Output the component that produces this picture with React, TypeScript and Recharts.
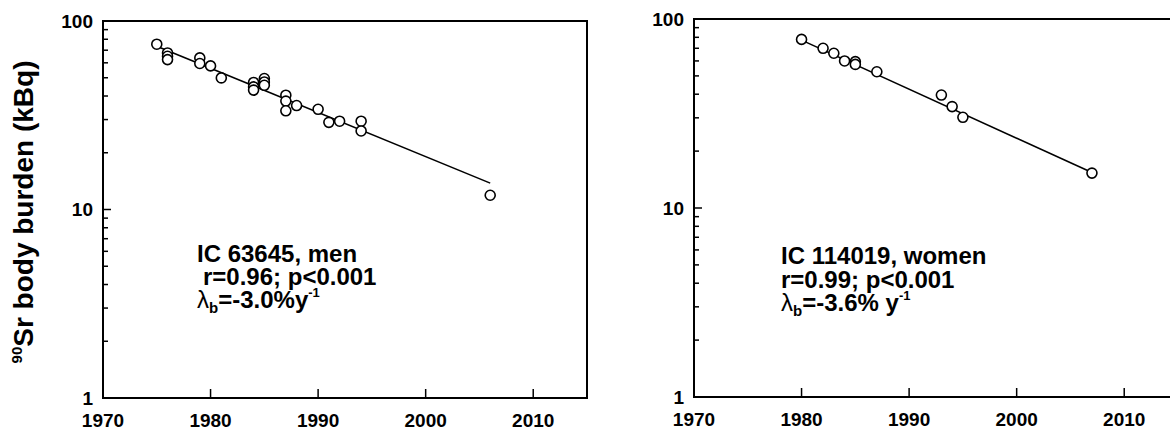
import React from 'react';
import { ScatterChart, Scatter, XAxis, YAxis, ReferenceArea } from 'recharts';

// Whole-body 90Sr burden measurements (kBq) by year of measurement
const menYears = [1975, 1976, 1976, 1976, 1979, 1979, 1980, 1981, 1984, 1984, 1984, 1985, 1985, 1985, 1987, 1987, 1987, 1988, 1990, 1991, 1992, 1994, 1994, 2006];
const menBurden = [75.3, 67.7, 65.0, 62.4, 63.7, 59.5, 57.8, 49.9, 47.2, 44.7, 43.0, 49.5, 47.5, 45.6, 40.4, 37.6, 33.4, 35.6, 34.0, 29.0, 29.4, 29.4, 26.1, 11.9];

const womenYears = [1980, 1982, 1983, 1984, 1985, 1985, 1987, 1993, 1994, 1995, 2007];
const womenBurden = [78.0, 70.0, 65.9, 60.0, 59.5, 57.5, 52.6, 39.6, 34.4, 30.2, 15.3];

// Exponential regression lines (end points)
const menFitYears = [1975, 2006];
const menFitBurden = [73.5, 13.8];
const womenFitYears = [1980, 2007];
const womenFitBurden = [77.3, 15.4];

// Axis ticks
const yearTicks = [1970, 1980, 1990, 2000, 2010];
const burdenTicks = [1, 2, 3, 4, 5, 6, 7, 8, 9, 10, 20, 30, 40, 50, 60, 70, 80, 90, 100];
const labelledBurdenTicks = [1, 10, 100];

const toPoints = (xs: number[], ys: number[]) => xs.map((year, i) => ({ year, burden: ys[i] }));

const FONT = '"Liberation Sans", Arial, Helvetica, sans-serif';

const XTick = (props: any) => {
  const { x, y, payload } = props;
  return (
    <g>
      <line x1={x} y1={y} x2={x} y2={y - 9} stroke="#000" strokeWidth={1.5} />
      <text x={x} y={y + 29} textAnchor="middle" fontFamily={FONT} fontWeight="bold" fontSize={19} fill="#000">
        {payload.value}
      </text>
    </g>
  );
};

const YTick = (props: any) => {
  const { x, y, payload } = props;
  const major = labelledBurdenTicks.includes(payload.value);
  return (
    <g>
      <line x1={x} y1={y} x2={x + (major ? 8 : 5)} y2={y} stroke="#000" strokeWidth={1.5} />
      {major && (
        <text x={x - 10} y={y} dy="0.36em" textAnchor="end" fontFamily={FONT} fontWeight="bold" fontSize={19} fill="#000">
          {payload.value}
        </text>
      )}
    </g>
  );
};

const OpenCircle = (props: any) => (
  <circle cx={props.cx} cy={props.cy} r={5} fill="#fff" stroke="#000" strokeWidth={1.6} />
);

const NoMarker = () => <g />;

type PanelProps = {
  points: { year: number; burden: number }[];
  fit: { year: number; burden: number }[];
  margin: { top: number; right: number; bottom: number; left: number };
};

function Panel({ points, fit, margin }: PanelProps) {
  return (
    <ScatterChart width={600} height={432} margin={margin}>
      <XAxis
        type="number"
        dataKey="year"
        domain={[1970, 2015]}
        ticks={yearTicks}
        interval={0}
        tickSize={0}
        tickMargin={0}
        tickLine={false}
        tick={XTick}
        axisLine={{ stroke: '#000', strokeWidth: 2 }}
        height={30}
        allowDataOverflow
      />
      <YAxis
        type="number"
        dataKey="burden"
        scale="log"
        domain={[1, 100]}
        ticks={burdenTicks}
        interval={0}
        tickSize={0}
        tickMargin={0}
        tickLine={false}
        tick={YTick}
        axisLine={{ stroke: '#000', strokeWidth: 2 }}
        width={60}
        allowDataOverflow
      />
      <ReferenceArea x1={1970} x2={2015} y1={1} y2={100} fill="none" stroke="#000" strokeWidth={2} ifOverflow="visible" />
      <Scatter data={fit} line={{ stroke: '#000', strokeWidth: 1.6 }} shape={NoMarker} isAnimationActive={false} />
      <Scatter data={points} shape={OpenCircle} isAnimationActive={false} />
    </ScatterChart>
  );
}

const txt = { fontFamily: FONT, fontWeight: 'bold' as const, fontSize: 24, fill: '#000' };

export default function App() {
  return (
    <div style={{ position: 'absolute', left: 0, top: 0, width: 1170, height: 432, overflow: 'hidden', background: '#fff' }}>
      <div style={{ position: 'absolute', left: 0, top: 0 }}>
        <Panel
          points={toPoints(menYears, menBurden)}
          fit={toPoints(menFitYears, menFitBurden)}
          margin={{ top: 21, right: 13, bottom: 4, left: 43 }}
        />
      </div>
      <div style={{ position: 'absolute', left: 600, top: 0 }}>
        <Panel
          points={toPoints(womenYears, womenBurden)}
          fit={toPoints(womenFitYears, womenFitBurden)}
          margin={{ top: 19, right: 22, bottom: 5, left: 34 }}
        />
      </div>
      <svg width={1170} height={432} style={{ position: 'absolute', left: 0, top: 0, pointerEvents: 'none' }}>
        <text transform="rotate(-90 33 212)" x={33} y={212} textAnchor="middle" fontFamily={FONT} fontWeight="bold" fontSize={28} fill="#000">
          <tspan fontSize={15} dy={-11}>90</tspan>
          <tspan dy={11}>Sr body burden (kBq)</tspan>
        </text>

        <text x={197} y={262} {...txt}>IC 63645, men</text>
        <text x={203} y={285} {...txt}>r=0.96; p&lt;0.001</text>
        <text x={197} y={308} {...txt}>
          <tspan fontWeight="normal">λ</tspan>
          <tspan fontSize={15} dy={5}>b</tspan>
          <tspan dy={-5}>=-3.0%y</tspan>
          <tspan fontSize={13} dy={-11}>-1</tspan>
        </text>

        <text x={781} y={264} {...txt}>IC 114019, women</text>
        <text x={781} y={288} {...txt}>r=0.99; p&lt;0.001</text>
        <text x={781} y={311} {...txt}>
          <tspan fontWeight="normal">λ</tspan>
          <tspan fontSize={15} dy={5}>b</tspan>
          <tspan dy={-5}>=-3.6% y</tspan>
          <tspan fontSize={13} dy={-11}>-1</tspan>
        </text>
      </svg>
    </div>
  );
}
